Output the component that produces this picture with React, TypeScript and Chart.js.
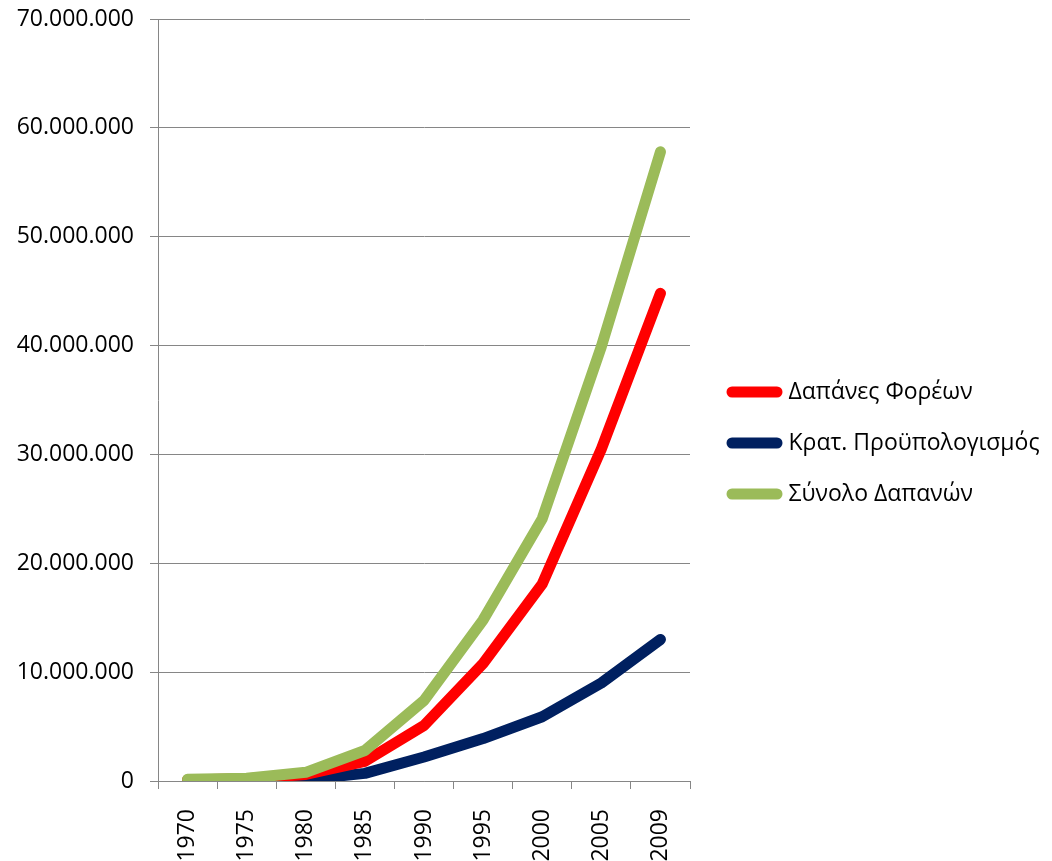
import React, { useEffect, useRef } from "react";
import { Chart, registerables } from "chart.js";

Chart.register(...registerables);

const years = ["1970", "1975", "1980", "1985", "1990", "1995", "2000", "2005", "2009"];
const dapanesForeon = [100000, 200000, 600000, 1800000, 5100000, 10800000, 18100000, 30500000, 44800000];
const kratProypologismos = [0, 50000, 150000, 700000, 2200000, 3900000, 5900000, 9000000, 13000000];
const synoloDapanon = [150000, 250000, 800000, 2800000, 7400000, 14800000, 24100000, 39900000, 57800000];
const seriesNames = ["Δαπάνες Φορέων", "Κρατ. Προϋπολογισμός", "Σύνολο Δαπανών"];

const FONT = "'Open Sans', sans-serif";
const FONT_SIZE = 23;
const GRID = "#868686";
const LINE_W = 11;

function fmt(v: number): string {
  return String(Math.round(v)).replace(/\B(?=(\d{3})+(?!\d))/g, ".");
}

const legendTweak = {
  id: "legendTweak",
  beforeLayout(chart: any) {
    const lg = chart.legend;
    if (lg && !lg.__patched) {
      const orig = lg.fit.bind(lg);
      lg.fit = function () {
        orig();
        this.width = 1052 - 690;
      };
      lg.__patched = true;
    }
  },
  afterLayout(chart: any) {
    const lg = chart.legend;
    if (lg) {
      const dy = 443 - (lg.top + lg.bottom) / 2;
      lg.left += 14;
      lg.right += 14;
      lg.top += dy;
      lg.bottom += dy;
    }
  },
};

export default function App() {
  const ref = useRef<HTMLCanvasElement | null>(null);
  useEffect(() => {
    let chart: Chart | null = null;
    let cancelled = false;
    const make = () => {
      if (cancelled || !ref.current) return;
      const common = {
        fill: false,
        tension: 0,
        borderWidth: LINE_W,
        pointRadius: 0,
        pointHoverRadius: 0,
        borderCapStyle: "round" as const,
        borderJoinStyle: "round" as const,
      };
      chart = new Chart(ref.current, {
        type: "line",
        data: {
          labels: years,
          datasets: [
            { ...common, label: seriesNames[0], data: dapanesForeon, borderColor: "#FF0000", backgroundColor: "#FF0000", order: 1 },
            { ...common, label: seriesNames[1], data: kratProypologismos, borderColor: "#002060", backgroundColor: "#002060", order: 2 },
            { ...common, label: seriesNames[2], data: synoloDapanon, borderColor: "#9BBB59", backgroundColor: "#9BBB59", order: 0 },
          ],
        },
        plugins: [legendTweak],
        options: {
          animation: false,
          responsive: false,
          maintainAspectRatio: false,
          layout: { padding: { top: 0, left: 0, right: 0, bottom: 0 } },
          plugins: {
            tooltip: { enabled: false },
            legend: {
              position: "right",
              align: "center",
              labels: {
                usePointStyle: true,
                pointStyle: "line",
                pointStyleWidth: 45,
                boxHeight: 11,
                padding: 28,
                color: "#000",
                font: { family: FONT, size: FONT_SIZE },
                sort: (a: any, b: any) => a.datasetIndex - b.datasetIndex,
                generateLabels: (c: any) => {
                  const items = Chart.defaults.plugins.legend.labels.generateLabels(c);
                  return items.map((it: any) => ({
                    ...it,
                    lineCap: "round",
                    lineWidth: LINE_W,
                    strokeStyle: c.data.datasets[it.datasetIndex].borderColor,
                  }));
                },
              },
            },
          },
          scales: {
            x: {
              offset: true,
              afterFit: (scale: any) => {
                scale.height = 80;
                scale.paddingLeft = 0;
                scale.paddingRight = 0;
              },
              grid: {
                offset: true,
                drawOnChartArea: false,
                drawTicks: true,
                tickLength: 8,
                color: GRID,
              },
              border: { display: true, color: GRID, width: 1 },
              ticks: {
                color: "#000",
                font: { family: FONT, size: FONT_SIZE },
                maxRotation: 90,
                minRotation: 90,
                padding: 20,
                autoSkip: false,
              },
            },
            y: {
              min: 0,
              max: 70000000,
              afterFit: (scale: any) => {
                scale.width = 158;
                scale.paddingTop = 19;
                scale.paddingBottom = 0;
              },
              grid: { color: GRID, tickLength: 8, lineWidth: 1 },
              border: { display: true, color: GRID, width: 1 },
              ticks: {
                stepSize: 10000000,
                color: "#000",
                font: { family: FONT, size: FONT_SIZE },
                padding: 16,
                callback: (v: any) => fmt(Number(v)),
              },
            },
          },
        },
      });
    };
    const fonts: any = (document as any).fonts;
    if (fonts && fonts.load) {
      Promise.all([
        fonts.load(`${FONT_SIZE}px "Open Sans"`, "0123456789."),
        fonts.load(`${FONT_SIZE}px "Open Sans"`, "Κρατ. Προϋπολογισμός"),
      ]).then(make, make);
    } else {
      make();
    }
    return () => {
      cancelled = true;
      if (chart) chart.destroy();
    };
  }, []);
  return (
    <div style={{ position: "fixed", left: 0, top: 0, width: 1052, height: 861, background: "#fff" }}>
      <canvas ref={ref} width={1052} height={861} style={{ width: 1052, height: 861 }} />
    </div>
  );
}
